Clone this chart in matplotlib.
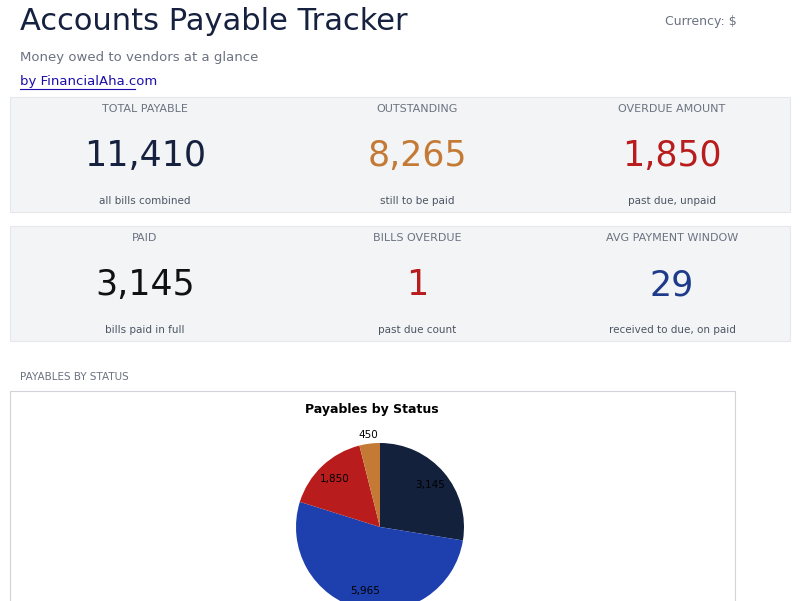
import matplotlib
matplotlib.use("Agg")
import matplotlib.pyplot as plt
from matplotlib.patches import Rectangle

card_labels = ["TOTAL PAYABLE", "OUTSTANDING", "OVERDUE AMOUNT", "PAID", "BILLS OVERDUE", "AVG PAYMENT WINDOW"]
card_values = ["11,410", "8,265", "1,850", "3,145", "1", "29"]
card_subs = ["all bills combined", "still to be paid", "past due, unpaid", "bills paid in full", "past due count", "received to due, on paid"]
card_colors = ["#15213f", "#c47a35", "#b91c1c", "#111111", "#b91c1c", "#1e3a8a"]

pie_values = [3145, 5965, 1850, 450]
pie_labels = ["3,145", "5,965", "1,850", "450"]
pie_colors = ["#14213d", "#1e40af", "#b91c1c", "#c47a35"]

W, H = 800, 601
fig = plt.figure(figsize=(8, 6.01), dpi=100)
bg = fig.add_axes([0, 0, 1, 1])
bg.set_xlim(0, W); bg.set_ylim(H, 0); bg.axis("off")

bg.text(20, 22, "Accounts Payable Tracker", fontsize=22, color="#15213f", va="center")
bg.text(665, 21, "Currency: $", fontsize=9, color="#6b7280", va="center")
bg.text(20, 57, "Money owed to vendors at a glance", fontsize=9.5, color="#6b7280", va="center")
t = bg.text(20, 82, "by FinancialAha.com", fontsize=9.5, color="#1a0dab", va="center")
bg.plot([20, 135], [89, 89], color="#1a0dab", lw=0.8)

for r, top in enumerate([97, 226]):
    bg.add_patch(Rectangle((10, top), 780, 115, facecolor="#f3f4f6", edgecolor="#e5e7eb", lw=0.8))
    for c, cx in enumerate([145, 417, 672]):
        i = r * 3 + c
        bg.text(cx, top + 12, card_labels[i], fontsize=8, color="#6b7280", ha="center", va="center")
        bg.text(cx, top + 59, card_values[i], fontsize=25, color=card_colors[i], ha="center", va="center")
        bg.text(cx, top + 104, card_subs[i], fontsize=7.5, color="#4b5563", ha="center", va="center")

bg.text(20, 377, "PAYABLES BY STATUS", fontsize=7.5, color="#6b7280", va="center")
bg.add_patch(Rectangle((10, 391), 725, 215, facecolor="white", edgecolor="#d1d5db", lw=0.8))
bg.text(372, 410, "Payables by Status", fontsize=9, fontweight="bold", ha="center", va="center")

cx, cy, rad = 380, 527, 84
ax = fig.add_axes([(cx - rad) / W, 1 - (cy + rad) / H, 2 * rad / W, 2 * rad / H])
wedges, texts, autotexts = ax.pie(pie_values, colors=pie_colors, startangle=90, counterclock=False,
                                  labels=pie_labels, labeldistance=1.1, autopct=lambda p: "",
                                  textprops=dict(fontsize=7.5))
for i, tx in enumerate(texts):
    if i < 3:
        x, y = tx.get_position()
        tx.set_position((x * 0.78 / 1.1, y * 0.78 / 1.1))
        tx.set_ha("center")
    else:
        tx.set_ha("center")
ax.set_aspect("equal")
ax.set_xlim(-1, 1); ax.set_ylim(-1, 1)
fig.savefig("out.png", dpi=100)
